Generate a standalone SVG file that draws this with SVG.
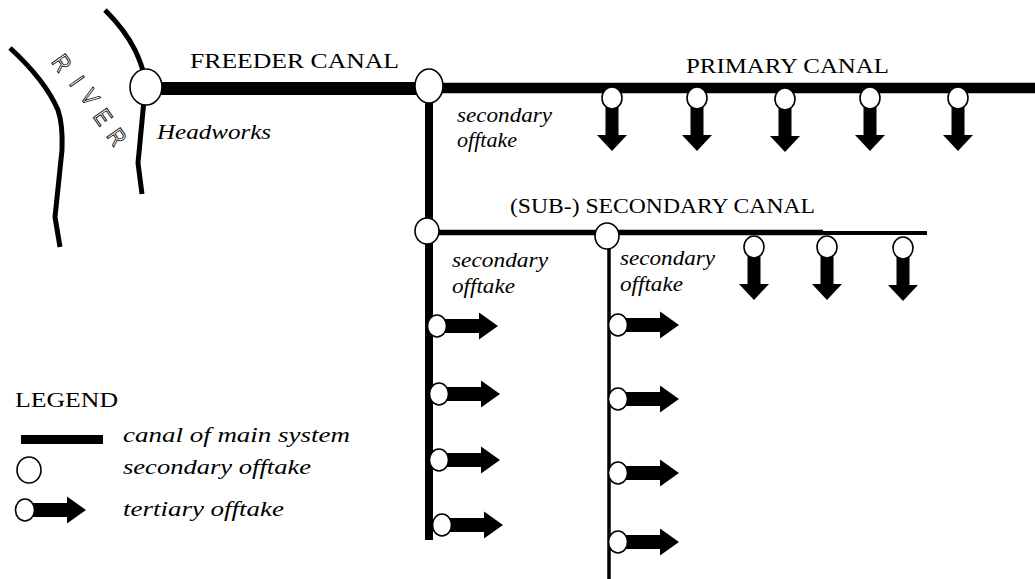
<svg xmlns="http://www.w3.org/2000/svg" xmlns:xlink="http://www.w3.org/1999/xlink" width="1035" height="579" viewBox="0 0 1035 579">
<style>
.cap{font-family:"Liberation Serif","Times New Roman",serif;font-size:22px;fill:#000}
.it{font-family:"Liberation Serif","Times New Roman",serif;font-style:italic;font-size:20px;fill:#000}
.riv{font-family:"Liberation Sans",Arial,sans-serif;font-size:24px;fill:#fff;stroke:#000;stroke-width:0.9}
.bank{fill:none;stroke:#000;stroke-width:5;stroke-linejoin:round;stroke-linecap:butt}
.node{fill:#fff;stroke:#000;stroke-width:1.6}
</style>
<defs>
<g id="offDown">
<rect x="-6.5" y="4" width="13" height="34" fill="#000"/>
<polygon points="-15,37 15,37 0,53" fill="#000"/>
<ellipse cx="0" cy="0" rx="10" ry="11" class="node"/>
</g>
<g id="offRight">
<rect x="0" y="-7" width="43" height="14" fill="#000"/>
<polygon points="42,-13.5 42,13.5 61,0" fill="#000"/>
<ellipse cx="0" cy="0" rx="9.5" ry="11" class="node"/>
</g>
</defs>
<rect width="1035" height="579" fill="#fff"/>

<g id="river">
<path class="bank" d="M10,48 Q45,80 58,110 Q63,125 62,150 L55,217 L60,247"/>
<path class="bank" d="M105,10 Q125,30 135,50 Q142,65 144,75"/>
<path class="bank" d="M144,100 L138,163 L142,194"/>
<g class="riv" text-anchor="middle">
<text transform="translate(62,63) rotate(55) scale(0.85,1)" dy="8.5">R</text>
<text transform="translate(77,81) rotate(55) scale(0.85,1)" dy="8.5">I</text>
<text transform="translate(90,97) rotate(55) scale(0.85,1)" dy="8.5">V</text>
<text transform="translate(103,117) rotate(55) scale(0.85,1)" dy="8.5">E</text>
<text transform="translate(117,137) rotate(55) scale(0.85,1)" dy="8.5">R</text>
</g>
</g>

<g id="connectors">
<line x1="160" y1="88.5" x2="418" y2="88.5" stroke="#000" stroke-width="13"/>
<line x1="440" y1="88" x2="1035" y2="88" stroke="#000" stroke-width="10.5"/>
<line x1="429" y1="100" x2="429" y2="220" stroke="#000" stroke-width="8"/>
<line x1="429" y1="242" x2="429" y2="540" stroke="#000" stroke-width="8"/>
<line x1="436" y1="232.5" x2="823" y2="232.5" stroke="#000" stroke-width="5.5"/>
<line x1="823" y1="233" x2="927" y2="233" stroke="#000" stroke-width="4"/>
<line x1="609" y1="246" x2="609" y2="579" stroke="#000" stroke-width="3.5"/>
</g>

<g id="headworks">
<ellipse class="node" cx="146" cy="87" rx="16" ry="18"/>
<text class="it" x="157" y="139" font-size="21" textLength="114" lengthAdjust="spacingAndGlyphs">Headworks</text>
</g>
<g id="feeder-label"><text class="cap" x="190" y="68" textLength="209" lengthAdjust="spacingAndGlyphs">FREEDER CANAL</text></g>
<g id="primary-label"><text class="cap" x="686" y="73" textLength="203" lengthAdjust="spacingAndGlyphs">PRIMARY CANAL</text></g>
<g id="secondary-label"><text class="cap" x="510" y="213" textLength="305" lengthAdjust="spacingAndGlyphs">(SUB-) SECONDARY CANAL</text></g>

<g id="offtake-main">
<ellipse class="node" cx="429" cy="86" rx="14" ry="17"/>
<text class="it" x="457" y="122" textLength="95" lengthAdjust="spacingAndGlyphs">secondary</text>
<text class="it" x="457" y="147" textLength="60" lengthAdjust="spacingAndGlyphs">offtake</text>
</g>
<g id="offtake-sub1">
<ellipse class="node" cx="427" cy="231" rx="12" ry="13"/>
<text class="it" x="452" y="267" textLength="96" lengthAdjust="spacingAndGlyphs">secondary</text>
<text class="it" x="452" y="293" textLength="63" lengthAdjust="spacingAndGlyphs">offtake</text>
</g>
<g id="offtake-sub2">
<ellipse class="node" cx="607" cy="236" rx="12" ry="13"/>
<text class="it" x="620" y="265" textLength="95" lengthAdjust="spacingAndGlyphs">secondary</text>
<text class="it" x="620" y="291" textLength="63" lengthAdjust="spacingAndGlyphs">offtake</text>
</g>

<g id="tertiary-primary">
<use xlink:href="#offDown" x="612" y="98"/>
<use xlink:href="#offDown" x="697" y="98"/>
<use xlink:href="#offDown" x="785" y="99"/>
<use xlink:href="#offDown" x="870" y="98"/>
<use xlink:href="#offDown" x="958" y="98"/>
</g>
<g id="tertiary-secondary">
<use xlink:href="#offDown" x="754" y="247"/>
<use xlink:href="#offDown" x="827" y="247"/>
<use xlink:href="#offDown" x="903" y="248"/>
</g>
<g id="tertiary-left">
<use xlink:href="#offRight" x="437" y="326"/>
<use xlink:href="#offRight" x="439" y="394"/>
<use xlink:href="#offRight" x="439" y="460"/>
<use xlink:href="#offRight" x="442" y="525"/>
</g>
<g id="tertiary-right">
<use xlink:href="#offRight" x="618" y="325"/>
<use xlink:href="#offRight" x="618" y="399"/>
<use xlink:href="#offRight" x="618" y="473"/>
<use xlink:href="#offRight" x="618" y="542"/>
</g>

<g id="legend">
<text class="cap" x="15" y="407" textLength="103" lengthAdjust="spacingAndGlyphs">LEGEND</text>
<rect x="21" y="435" width="82" height="9" fill="#000"/>
<text class="it" x="123" y="442" textLength="227" lengthAdjust="spacingAndGlyphs">canal of main system</text>
<ellipse class="node" cx="29" cy="470" rx="12" ry="13"/>
<text class="it" x="123" y="474" textLength="188" lengthAdjust="spacingAndGlyphs">secondary offtake</text>
<use xlink:href="#offRight" x="25" y="510"/>
<text class="it" x="123" y="516" textLength="161" lengthAdjust="spacingAndGlyphs">tertiary offtake</text>
</g>
</svg>
